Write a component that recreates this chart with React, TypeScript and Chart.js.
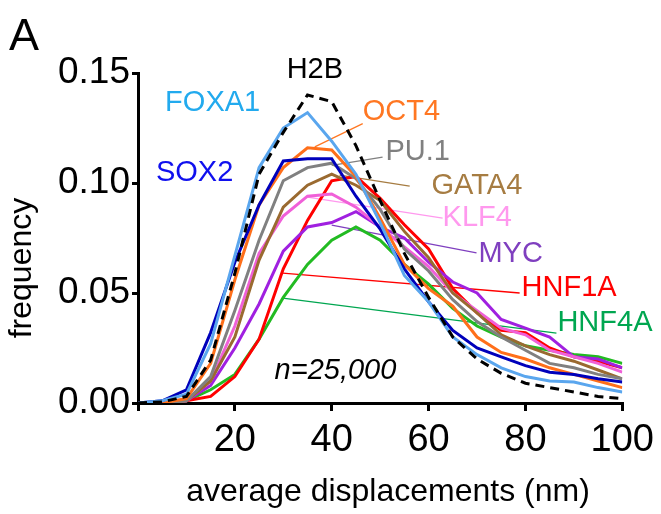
import React, { useEffect, useRef } from 'react';
import { Chart, registerables } from 'chart.js';

Chart.register(...registerables);

// x categories: average displacement bins (nm)
const displacement = [0, 5, 10, 15, 20, 25, 30, 35, 40, 45, 50, 55, 60, 65, 70, 75, 80, 85, 90, 95, 100];

// frequency per series
const h2b = [0, 0.0005, 0.003, 0.0195, 0.059, 0.104, 0.123, 0.140, 0.137, 0.117, 0.092, 0.068, 0.048, 0.030, 0.020, 0.0135, 0.009, 0.007, 0.005, 0.003, 0.002];
const foxa1 = [0, 0.001, 0.004, 0.027, 0.067, 0.107, 0.125, 0.132, 0.119, 0.104, 0.082, 0.058, 0.046, 0.030, 0.022, 0.016, 0.012, 0.010, 0.0095, 0.007, 0.005];
const sox2 = [0, 0.001, 0.006, 0.032, 0.064, 0.090, 0.110, 0.111, 0.111, 0.094, 0.079, 0.061, 0.046, 0.033, 0.025, 0.021, 0.017, 0.014, 0.013, 0.011, 0.0095];
const oct4 = [0, 0, 0.002, 0.018, 0.056, 0.090, 0.107, 0.116, 0.115, 0.103, 0.084, 0.063, 0.052, 0.044, 0.030, 0.023, 0.020, 0.016, 0.013, 0.010, 0.007];
const pu1 = [0, 0, 0.001, 0.012, 0.042, 0.074, 0.101, 0.107, 0.109, 0.102, 0.088, 0.070, 0.060, 0.047, 0.037, 0.030, 0.024, 0.018, 0.016, 0.013, 0.011];
const gata4 = [0, 0, 0.001, 0.010, 0.030, 0.065, 0.089, 0.099, 0.104, 0.099, 0.092, 0.078, 0.066, 0.050, 0.041, 0.031, 0.026, 0.022, 0.019, 0.015, 0.011];
const klf4 = [0, 0, 0.001, 0.010, 0.035, 0.068, 0.085, 0.094, 0.095, 0.089, 0.080, 0.071, 0.062, 0.050, 0.042, 0.034, 0.031, 0.024, 0.021, 0.018, 0.014];
const myc = [0, 0, 0.001, 0.008, 0.025, 0.045, 0.069, 0.080, 0.082, 0.087, 0.080, 0.075, 0.064, 0.055, 0.050, 0.038, 0.034, 0.030, 0.021, 0.020, 0.016];
const hnf1a = [0, 0, 0.001, 0.003, 0.012, 0.029, 0.061, 0.083, 0.101, 0.103, 0.093, 0.081, 0.070, 0.052, 0.041, 0.033, 0.032, 0.025, 0.021, 0.019, 0.016];
const hnf4a = [0, 0, 0.001, 0.006, 0.013, 0.029, 0.048, 0.063, 0.074, 0.080, 0.074, 0.063, 0.054, 0.043, 0.035, 0.030, 0.026, 0.024, 0.022, 0.021, 0.018];

const seriesNames = ['H2B', 'FOXA1', 'SOX2', 'OCT4', 'PU.1', 'GATA4', 'KLF4', 'MYC', 'HNF1A', 'HNF4A'];
const seriesValues = [h2b, foxa1, sox2, oct4, pu1, gata4, klf4, myc, hnf1a, hnf4a];
const lineColors = ['#000000', '#5AA6EE', '#0000BB', '#FF6F1A', '#808080', '#9A6A30', '#F060D8', '#A020E0', '#FF0000', '#22BB22'];
const labelColors = ['#000000', '#22AAEE', '#1010EE', '#FF7722', '#808080', '#A67C42', '#FF99EE', '#7F3FBF', '#FF0000', '#00A650'];

// label anchor (left edge, vertical middle) in data coordinates
const labelX = [30.7, 5.6, 3.7, 46.4, 51.1, 60.6, 62.9, 70.3, 79.2, 86.6];
const labelY = [0.1514, 0.1364, 0.1045, 0.1323, 0.114, 0.0986, 0.084, 0.0677, 0.0523, 0.0364];

// leader lines from curve to label, data coordinates (null = none)
const leaderFromX = [null, null, null, 36.5, 40, 41.6, 35, 40, 29.9, 29.9];
const leaderFromY = [null, null, null, 0.1164, 0.108, 0.1036, 0.0936, 0.0809, 0.059, 0.0477];
const leaderToX = [null, null, null, 46.4, 50.5, 56.1, 62.9, 69.9, 78.8, 86.4];
const leaderToY = [null, null, null, 0.127, 0.1118, 0.0986, 0.084, 0.0682, 0.05, 0.0318];

const sampleText = 'n=25,000';
const sampleX = 28.2;
const sampleY = 0.0148;
const panelLabel = 'A';
const xTitle = 'average displacements (nm)';
const yTitle = 'frequency';

const FONT = '"Liberation Sans", Arial, Helvetica, sans-serif';

const annotatePlugin = {
  id: 'annotate',
  beforeDatasetsDraw(chart: any) {
    const { ctx, scales } = chart;
    const x = scales.x;
    const y = scales.y;
    ctx.save();
    ctx.lineWidth = 1.3;
    for (let i = 0; i < seriesNames.length; i++) {
      if (leaderFromX[i] === null) continue;
      ctx.strokeStyle = labelColors[i];
      ctx.beginPath();
      ctx.moveTo(x.getPixelForValue(leaderFromX[i]), y.getPixelForValue(leaderFromY[i]));
      ctx.lineTo(x.getPixelForValue(leaderToX[i]), y.getPixelForValue(leaderToY[i]));
      ctx.stroke();
    }
    ctx.restore();
  },
  afterDraw(chart: any) {
    const { ctx, scales } = chart;
    const x = scales.x;
    const y = scales.y;
    ctx.save();
    ctx.textBaseline = 'middle';
    ctx.textAlign = 'left';
    ctx.font = `29px ${FONT}`;
    for (let i = 0; i < seriesNames.length; i++) {
      ctx.fillStyle = labelColors[i];
      ctx.fillText(seriesNames[i], x.getPixelForValue(labelX[i]), y.getPixelForValue(labelY[i]));
    }
    ctx.fillStyle = '#000';
    ctx.font = `italic 29px ${FONT}`;
    ctx.fillText(sampleText, x.getPixelForValue(sampleX), y.getPixelForValue(sampleY));

    ctx.font = `45px ${FONT}`;
    ctx.textBaseline = 'alphabetic';
    ctx.fillText(panelLabel, 9, 50);

    ctx.font = `32px ${FONT}`;
    ctx.textAlign = 'center';
    ctx.textBaseline = 'middle';
    ctx.fillText(xTitle, 388, 492);

    ctx.save();
    ctx.translate(22, 268);
    ctx.rotate(-Math.PI / 2);
    ctx.fillText(yTitle, 0, 0);
    ctx.restore();
    ctx.restore();
  },
};

export default function App() {
  const ref = useRef<HTMLCanvasElement | null>(null);
  useEffect(() => {
    if (!ref.current) return;
    const datasets = seriesNames.map((name, i) => ({
      label: name,
      data: displacement.map((d, j) => ({ x: d, y: seriesValues[i][j] })),
      borderColor: lineColors[i],
      backgroundColor: lineColors[i],
      borderWidth: 3,
      borderDash: i === 0 ? [9, 6] : [],
      pointRadius: 0,
      tension: 0,
      fill: false,
    }));
    const chart = new Chart(ref.current, {
      type: 'line',
      data: { datasets },
      options: {
        animation: false,
        responsive: false,
        maintainAspectRatio: false,
        layout: { padding: { top: 73, right: 38, left: 0, bottom: 0 } },
        plugins: { legend: { display: false }, tooltip: { enabled: false } },
        scales: {
          x: {
            type: 'linear',
            min: 0,
            max: 100,
            position: 'bottom',
            afterFit: (s: any) => { s.height = 111; },
            ticks: {
              stepSize: 20,
              autoSkip: false,
              maxRotation: 0,
              padding: 7,
              color: '#000',
              font: { size: 38, family: FONT },
              callback: (v: any) => (v === 0 ? '' : String(v)),
            },
            grid: { display: true, drawOnChartArea: false, drawTicks: true, tickLength: 8, lineWidth: 3, color: '#000' },
            border: { display: true, width: 3, color: '#000' },
          },
          y: {
            type: 'linear',
            min: 0,
            max: 0.15,
            afterFit: (s: any) => { s.width = 138; },
            ticks: {
              stepSize: 0.05,
              padding: 2,
              color: '#000',
              font: { size: 37, family: FONT },
              callback: (v: any) => Number(v).toFixed(2),
            },
            grid: { display: true, drawOnChartArea: false, drawTicks: true, tickLength: 6, lineWidth: 3, color: '#000' },
            border: { display: true, width: 3, color: '#000' },
          },
        },
      },
      plugins: [annotatePlugin],
    });
    return () => chart.destroy();
  }, []);
  return (
    <div style={{ position: 'absolute', left: 0, top: 0, width: 661, height: 514, background: '#fff' }}>
      <canvas ref={ref} width={661} height={514} style={{ width: 661, height: 514 }} />
    </div>
  );
}
